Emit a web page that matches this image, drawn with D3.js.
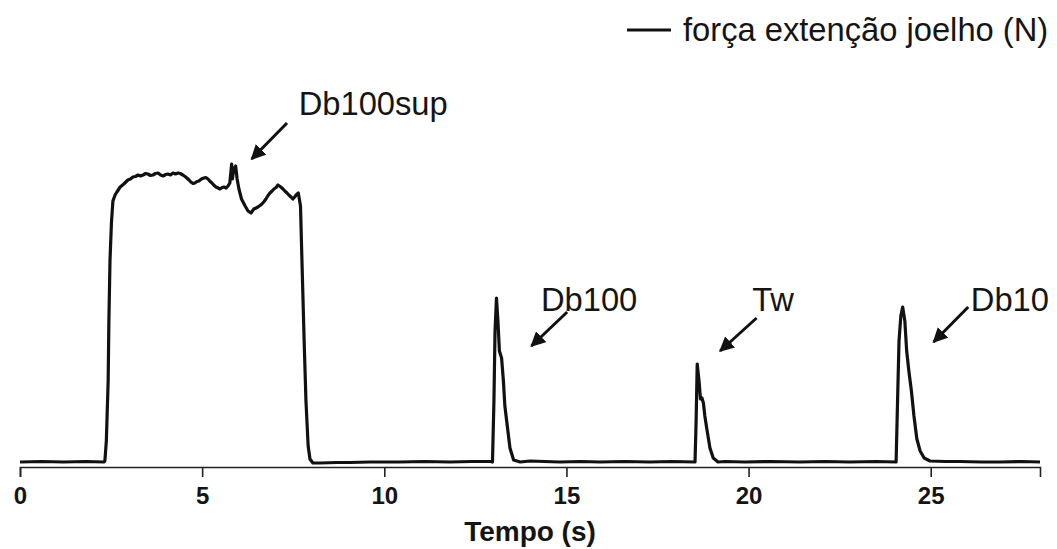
<!DOCTYPE html>
<html>
<head>
<meta charset="utf-8">
<script src="https://cdn.jsdelivr.net/npm/d3@7"></script>
<style>
  html, body { margin: 0; padding: 0; background: #fff; }
  svg { display: block; }
  text { font-family: "Liberation Sans", Arial, sans-serif; fill: #141414; }
</style>
</head>
<body>
<svg id="chart" width="1057" height="549"></svg>
<script>
// Knee-extension force trace (N) versus time (s)
const time = [
  0, 0.6, 1.2, 1.8, 2.3, 2.33, 2.37, 2.42, 2.44, 2.47, 2.51, 2.55, 2.61, 2.66, 2.75, 2.85, 2.96,
  3.03, 3.10, 3.17, 3.24, 3.31, 3.38, 3.45, 3.51, 3.58, 3.65, 3.72, 3.79, 3.86, 3.93, 4.00, 4.06,
  4.13, 4.20, 4.27, 4.34, 4.40, 4.47, 4.53, 4.58, 4.64, 4.69, 4.75, 4.80, 4.86,
  4.91, 4.98, 5.05, 5.10, 5.16, 5.22, 5.27, 5.33, 5.38, 5.44, 5.49, 5.55, 5.60, 5.66, 5.71, 5.76,
  5.81, 5.83, 5.87, 5.92, 5.96,
  6.01, 6.08, 6.18, 6.26, 6.34, 6.42, 6.48, 6.53, 6.59, 6.64, 6.70, 6.75, 6.81, 6.86, 6.92, 6.97,
  7.03, 7.08, 7.12, 7.16, 7.22, 7.27, 7.33,
  7.38, 7.44, 7.49, 7.54, 7.58, 7.64, 7.70, 7.74, 7.80, 7.85, 7.91, 7.96, 8.04, 8.24, 8.7, 9.06,
  9.6, 10.43, 11.1, 11.80, 12.4, 12.93,
  12.97, 13.01, 13.04, 13.08, 13.12, 13.16, 13.22, 13.27, 13.31, 13.36, 13.45, 13.55,
  13.73, 14.00, 14.4, 14.82, 15.4, 15.92, 16.6, 17.29, 17.9, 18.53,
  18.56, 18.59, 18.64, 18.68, 18.72, 18.76, 18.80, 18.85, 18.94, 19.03, 19.16, 19.35,
  19.9, 20.6, 21.41, 22.1, 22.78, 23.5, 24.05,
  24.09, 24.13, 24.18, 24.23, 24.29, 24.34, 24.40, 24.47, 24.54, 24.62, 24.71, 24.82, 24.98,
  25.40, 25.80, 26.40, 26.90, 27.5, 28.0
];
const force = [
  0, 1, 0, 1, 0, 2, 42, 162, 282, 402, 478, 522, 534, 540, 550, 556, 564,
  566, 570, 571, 574, 572, 574, 577, 576, 573, 574, 577, 578, 574, 572, 575, 576,
  574, 578, 576, 578, 577, 574, 571, 568, 564, 560, 557, 558, 561,
  562, 566, 568, 569, 566, 561, 558, 553, 550, 548, 546, 549, 550, 548, 552, 558,
  596, 566, 586, 592, 566,
  546, 526, 512, 502, 498, 506, 508, 510, 513, 516, 521, 526, 533, 538, 542, 546,
  549, 554, 552, 550, 546, 542, 538,
  534, 530, 526, 530, 534, 538, 512, 402, 242, 122, 32, 6, -2, -2, -1, -1,
  0, 0, 1, 0, 1, 1,
  0, 122, 262, 328, 282, 222, 208, 162, 112, 82, 28, 4,
  0, 2, 1, 0, 1, 0, 1, 0, 1, 0,
  82, 196, 162, 126, 128, 118, 92, 68, 28, 8, 0, 1,
  0, 1, 0, 1, 0, 1, 0,
  122, 242, 292, 310, 282, 222, 182, 142, 92, 46, 22, 8, 2,
  1, 1, 0, 0, 1, 0
];

const xTicks = [0, 5, 10, 15, 20, 25];
const xTitle = "Tempo (s)";
const seriesName = "força extenção joelho (N)";

// Labelled contractions: text, label anchor and arrow (time, force) pairs
const notes = ["Db100sup", "Db100", "Tw", "Db10"];
const noteLabelT = [7.65, 14.3, 20.1, 26.1];
const noteLabelF = [694, 302, 302, 302];
const arrowFromT = [7.33, 15.02, 20.22, 26.03];
const arrowFromF = [678, 300, 288, 310];
const arrowToT = [6.36, 14.04, 19.22, 25.08];
const arrowToF = [606, 232, 222, 240];

const svg = d3.select("#chart");
const x = d3.scaleLinear().domain([0, 28]).range([20, 1040]);
const y = d3.scaleLinear().domain([0, 600]).range([462, 162]);

const data = time.map((t, i) => ({ t, f: force[i] }));

// arrowhead marker
svg.append("defs").append("marker")
  .attr("id", "head")
  .attr("viewBox", "0 0 10 10")
  .attr("refX", 9).attr("refY", 5)
  .attr("markerWidth", 5).attr("markerHeight", 5)
  .attr("markerUnits", "strokeWidth")
  .attr("orient", "auto")
  .append("path").attr("d", "M0,0 L10,5 L0,10 Z").attr("fill", "#111");

// x axis
const axisY = 467;
const gx = svg.append("g").attr("transform", `translate(0,${axisY})`)
  .call(d3.axisBottom(x).tickValues(xTicks).tickSize(10).tickPadding(10).tickFormat(d3.format("d")));
gx.select(".domain").attr("stroke", "#222").attr("stroke-width", 1.6);
gx.selectAll(".tick line").attr("stroke", "#222").attr("stroke-width", 1.6);
gx.selectAll(".tick text")
  .attr("font-family", "'Liberation Sans', Arial, sans-serif")
  .attr("font-size", 24).attr("font-weight", "bold").attr("fill", "#141414");

svg.append("text")
  .attr("x", x(14)).attr("y", 541)
  .attr("text-anchor", "middle")
  .attr("font-size", 28).attr("font-weight", "bold")
  .text(xTitle);

// force trace
const line = d3.line().x(d => x(d.t)).y(d => y(d.f)).curve(d3.curveLinear);
svg.append("path")
  .datum(data)
  .attr("d", line)
  .attr("fill", "none")
  .attr("stroke", "#111")
  .attr("stroke-width", 3.2)
  .attr("stroke-linejoin", "round");

// annotations
notes.forEach((n, i) => {
  svg.append("line")
    .attr("x1", x(arrowFromT[i])).attr("y1", y(arrowFromF[i]))
    .attr("x2", x(arrowToT[i])).attr("y2", y(arrowToF[i]))
    .attr("stroke", "#111").attr("stroke-width", 3)
    .attr("marker-end", "url(#head)");
  svg.append("text")
    .attr("x", x(noteLabelT[i])).attr("y", y(noteLabelF[i]))
    .attr("font-size", 32.7)
    .text(n);
});

// legend
svg.append("line")
  .attr("x1", 627).attr("x2", 671).attr("y1", 30).attr("y2", 30)
  .attr("stroke", "#111").attr("stroke-width", 3);
svg.append("text")
  .attr("x", 683).attr("y", 41)
  .attr("font-size", 32.7)
  .text(seriesName);
</script>
</body>
</html>
